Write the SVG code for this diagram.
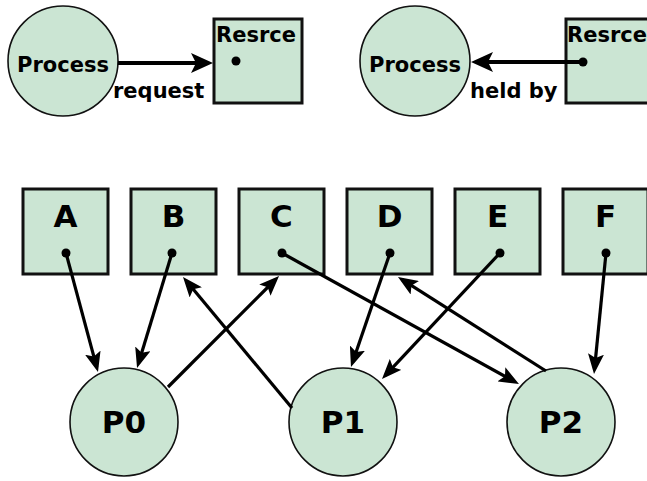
<svg xmlns="http://www.w3.org/2000/svg" width="647" height="481" viewBox="0 0 647 481">
<style>
.proc{fill:#cbe5d3;stroke:#111;stroke-width:1.6}
.res{fill:#cbe5d3;stroke:#111;stroke-width:3}
.dot{fill:#000}
.t{font-family:"DejaVu Sans",Verdana,sans-serif;font-weight:bold;fill:#000}
.s{font-size:21px}
.b{font-size:31px}
.e{stroke:#000;stroke-width:3.2;fill:none;marker-end:url(#ah)}
.e2{stroke:#000;stroke-width:4;fill:none;marker-end:url(#ah2)}
</style>
<defs>
<marker id="ah" viewBox="0 0 20 16" refX="15" refY="8" markerWidth="20" markerHeight="16" markerUnits="userSpaceOnUse" orient="auto">
<path d="M0,0 L20,8 L0,16 L4,8 z" fill="#000"/>
</marker>
<marker id="ah2" viewBox="0 0 22 20" refX="17" refY="10" markerWidth="22" markerHeight="20" markerUnits="userSpaceOnUse" orient="auto">
<path d="M0,0 L22,10 L0,20 L5,10 z" fill="#000"/>
</marker>
</defs>
<g id="legend-request">
<g id="proc1"><circle class="proc" cx="63" cy="61" r="55"/><text class="t s" x="63" y="72" text-anchor="middle">Process</text></g>
<g id="res1"><rect class="res" x="214" y="19" width="88" height="84"/><text class="t s" x="216" y="42">Resrce</text><circle class="dot" cx="236" cy="61" r="4.5"/></g>
<text class="t s" x="113" y="98">request</text>
</g>
<g id="legend-held">
<g id="proc2"><circle class="proc" cx="415" cy="61" r="55"/><text class="t s" x="415" y="72" text-anchor="middle">Process</text></g>
<g id="res2"><rect class="res" x="566" y="19" width="88" height="84"/><text class="t s" x="567" y="42">Resrce</text><circle class="dot" cx="583" cy="62" r="4.5"/></g>
<text class="t s" x="470" y="98">held by</text>
</g>
<g id="A"><rect class="res" x="23" y="189" width="85" height="85"/><text class="t b" x="65.5" y="227" text-anchor="middle">A</text><circle class="dot" cx="66" cy="253" r="4.5"/></g>
<g id="B"><rect class="res" x="131" y="189" width="85" height="85"/><text class="t b" x="173.5" y="227" text-anchor="middle">B</text><circle class="dot" cx="172" cy="253" r="4.5"/></g>
<g id="C"><rect class="res" x="239" y="189" width="85" height="85"/><text class="t b" x="281.5" y="227" text-anchor="middle">C</text><circle class="dot" cx="282" cy="253" r="4.5"/></g>
<g id="D"><rect class="res" x="347" y="189" width="85" height="85"/><text class="t b" x="389.5" y="227" text-anchor="middle">D</text><circle class="dot" cx="390" cy="253" r="4.5"/></g>
<g id="E"><rect class="res" x="455" y="189" width="85" height="85"/><text class="t b" x="497.5" y="227" text-anchor="middle">E</text><circle class="dot" cx="500" cy="253" r="4.5"/></g>
<g id="F"><rect class="res" x="563" y="189" width="85" height="85"/><text class="t b" x="605.5" y="227" text-anchor="middle">F</text><circle class="dot" cx="606" cy="253" r="4.5"/></g>
<g id="P0"><circle class="proc" cx="124" cy="422" r="54"/><text class="t b" x="124" y="433" text-anchor="middle">P0</text></g>
<g id="P1"><circle class="proc" cx="343" cy="422" r="54"/><text class="t b" x="343" y="433" text-anchor="middle">P1</text></g>
<g id="P2"><circle class="proc" cx="561" cy="422" r="54"/><text class="t b" x="561" y="433" text-anchor="middle">P2</text></g>
<g id="connectors">
<line class="e2" x1="118" y1="63" x2="208" y2="63"/>
<line class="e2" x1="583" y1="62" x2="476" y2="62"/>
<line class="e" x1="66" y1="253" x2="96.7" y2="367.2"/>
<line class="e" x1="172" y1="253" x2="138.5" y2="363.2"/>
<line class="e" x1="168" y1="387" x2="275.5" y2="279.5"/>
<line class="e" x1="292" y1="408" x2="186.2" y2="280.8"/>
<line class="e" x1="282" y1="253" x2="514.6" y2="381.6"/>
<line class="e" x1="390" y1="253" x2="352.6" y2="362.3"/>
<line class="e" x1="500" y1="253" x2="385.4" y2="375.3"/>
<line class="e" x1="546" y1="371" x2="402.2" y2="279.7"/>
<line class="e" x1="606" y1="253" x2="594.5" y2="369"/>
</g>
</svg>
